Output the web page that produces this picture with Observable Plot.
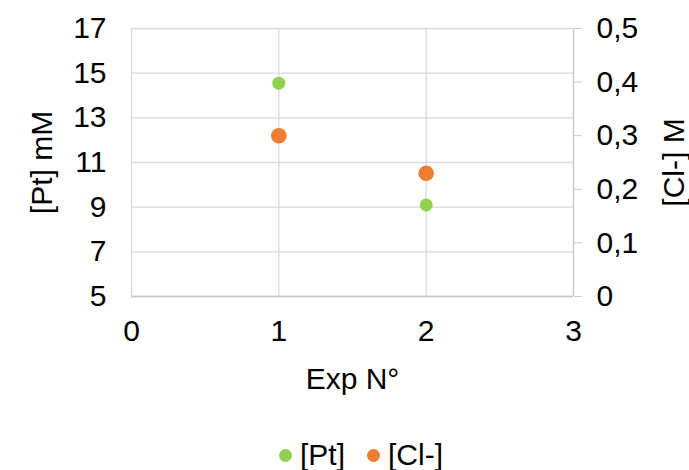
<!DOCTYPE html>
<html>
<head>
<meta charset="utf-8">
<script src="https://cdn.jsdelivr.net/npm/d3@7"></script>
<script src="https://cdn.jsdelivr.net/npm/@observablehq/plot@0.6"></script>
<style>
  body { margin: 0; background: #fff; font-family: "Liberation Sans", Arial, sans-serif; }
  #chart { width: 689px; }
  .legend { height: 50px; display: flex; justify-content: flex-start; align-items: center; font-size: 30px; color: #000; gap: 22px; padding-left: 279px; }
  .legend span.item { display: flex; align-items: center; }
  .legend span.sw { display: inline-block; width: 13px; height: 13px; border-radius: 50%; margin-right: 8px; }
</style>
</head>
<body>
<div id="chart"></div>
<script>
const expN = [1, 2];
const ptValues = [14.55, 9.1];
const clValues = [0.30, 0.23];
const xTicks = [0, 1, 2, 3];
const ptTicks = [5, 7, 9, 11, 13, 15, 17];
const clTicks = [0, 0.1, 0.2, 0.3, 0.4, 0.5];
const seriesNames = ["[Pt]", "[Cl-]"];
const colors = ["#92D050", "#ED7D31"];

const ptMin = 5, ptMax = 17, clMax = 0.5;
const clToPt = c => ptMin + c / clMax * (ptMax - ptMin);
const ptToCl = p => (p - ptMin) / (ptMax - ptMin) * clMax;
const fmtComma = v => { const r = Math.round(v * 10) / 10; return r === 0 ? "0" : String(r).replace(".", ","); };

const ptData = expN.map((x, i) => ({x, y: ptValues[i]}));
const clData = expN.map((x, i) => ({x, y: clToPt(clValues[i])}));

const chart = Plot.plot({
  width: 689,
  height: 430,
  marginLeft: 131,
  marginRight: 116,
  marginTop: 28,
  marginBottom: 134,
  style: { fontFamily: "Liberation Sans, Arial, sans-serif", color: "#000", background: "#fff" },
  x: { domain: [0, 3] },
  y: { domain: [ptMin, ptMax] },
  marks: [
    Plot.gridY(ptTicks, { stroke: "#d9d9d9", strokeOpacity: 1, strokeWidth: 1.3 }),
    Plot.gridX(xTicks, { stroke: "#d9d9d9", strokeOpacity: 1, strokeWidth: 1.3 }),
    Plot.ruleY([ptMin], { stroke: "#c8c8c8", strokeWidth: 1.3 }),
    Plot.ruleX([3], { stroke: "#c8c8c8", strokeWidth: 1.3 }),
    Plot.axisY(ptTicks, {
      anchor: "left", tickSize: 0, tickPadding: 25, fontSize: 30,
      label: "[Pt] mM", labelAnchor: "center", labelArrow: "none", labelOffset: 101
    }),
    Plot.axisY(clTicks.map(clToPt), {
      anchor: "right", tickSize: 8, tickPadding: 15, fontSize: 30, stroke: "#c8c8c8",
      tickFormat: d => fmtComma(ptToCl(d)),
      label: "[Cl-] M", labelAnchor: "center", labelArrow: "none", labelOffset: 110
    }),
    Plot.axisX(xTicks, {
      tickSize: 0, tickPadding: 23, fontSize: 30, tickFormat: d => String(d),
      label: "Exp N°", labelAnchor: "center", labelArrow: "none", labelOffset: 92
    }),
    Plot.dot(ptData, { x: "x", y: "y", r: 6.5, fill: colors[0], stroke: "none" }),
    Plot.dot(clData, { x: "x", y: "y", r: 7.8, fill: colors[1], stroke: "none" })
  ]
});
document.getElementById("chart").appendChild(chart);

const legend = document.createElement("div");
legend.className = "legend";
seriesNames.forEach((n, i) => {
  const item = document.createElement("span");
  item.className = "item";
  const sw = document.createElement("span");
  sw.className = "sw";
  sw.style.background = colors[i];
  item.appendChild(sw);
  item.appendChild(document.createTextNode(n));
  legend.appendChild(item);
});
document.getElementById("chart").appendChild(legend);
</script>
</body>
</html>
